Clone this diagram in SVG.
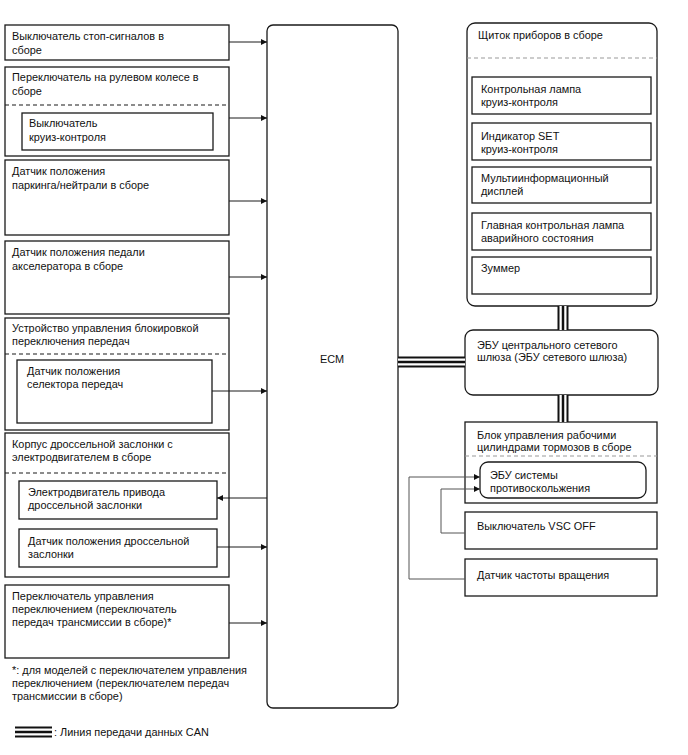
<svg xmlns="http://www.w3.org/2000/svg" width="688" height="755" viewBox="0 0 688 755">
<defs>
<style>
.b{fill:#fff;stroke:#1a1a1a;stroke-width:1.3}
.t{font-family:"Liberation Sans",Arial,sans-serif;font-size:10.9px;fill:#111}
.d{stroke:#1a1a1a;stroke-width:1.2;stroke-dasharray:4 3;fill:none}
.g{stroke:#999;stroke-width:1.2;stroke-dasharray:4 3;fill:none}
.c{stroke:#1a1a1a;stroke-width:1;fill:none}
.cg{stroke:#555;stroke-width:1;fill:none}
</style>
<marker id="ah" viewBox="0 0 10 10" refX="10" refY="5" markerWidth="9" markerHeight="6" markerUnits="userSpaceOnUse" orient="auto"><path d="M0,0L10,5L0,10z" fill="#111"/></marker>
</defs>
<rect width="688" height="755" fill="#fff"/>

<g id="ecm"><rect class="b" x="267" y="25" width="131" height="683" rx="6"/><text class="t" x="332" y="363" text-anchor="middle">ECM</text></g>

<g id="n1"><rect class="b" x="5" y="25" width="224" height="35"/><text class="t" x="12" y="40">Выключатель стоп-сигналов в</text><text class="t" x="12" y="53.5">сборе</text></g>

<g id="n2"><rect class="b" x="5" y="67" width="224" height="89"/><text class="t" x="12" y="81">Переключатель на рулевом колесе в</text><text class="t" x="12" y="94.5">сборе</text><line class="d" x1="5" y1="105" x2="229" y2="105"/>
<g id="n2a"><rect class="b" x="22" y="113" width="191" height="37"/><text class="t" x="29" y="127">Выключатель</text><text class="t" x="29" y="140.5">круиз-контроля</text></g></g>

<g id="n3"><rect class="b" x="5" y="160" width="224" height="75"/><text class="t" x="12" y="175">Датчик положения</text><text class="t" x="12" y="188.5">паркинга/нейтрали в сборе</text></g>

<g id="n4"><rect class="b" x="5" y="241" width="224" height="73"/><text class="t" x="12" y="256">Датчик положения педали</text><text class="t" x="12" y="269.5">акселератора в сборе</text></g>

<g id="n5"><rect class="b" x="5" y="318" width="224" height="112"/><text class="t" x="12" y="332">Устройство управления блокировкой</text><text class="t" x="12" y="345">переключения передач</text><line class="d" x1="5" y1="354" x2="229" y2="354"/>
<g id="n5a"><rect class="b" x="17" y="360" width="195" height="63"/><text class="t" x="27" y="374.5">Датчик положения</text><text class="t" x="27" y="387.5">селектора передач</text></g></g>

<g id="n6"><rect class="b" x="5" y="433" width="224" height="144"/><text class="t" x="12" y="448">Корпус дроссельной заслонки с</text><text class="t" x="12" y="461">электродвигателем в сборе</text><line class="d" x1="5" y1="473" x2="229" y2="473"/>
<g id="n6a"><rect class="b" x="19" y="481" width="198" height="38"/><text class="t" x="28" y="496">Электродвигатель привода</text><text class="t" x="28" y="509">дроссельной заслонки</text></g>
<g id="n6b"><rect class="b" x="19" y="529" width="198" height="38"/><text class="t" x="28" y="544.5">Датчик положения дроссельной</text><text class="t" x="28" y="557.5">заслонки</text></g></g>

<g id="n7"><rect class="b" x="5" y="585" width="224" height="73"/><text class="t" x="12" y="599.5">Переключатель управления</text><text class="t" x="12" y="612.5">переключением (переключатель</text><text class="t" x="12" y="625.5">передач трансмиссии в сборе)*</text></g>

<g id="note"><text class="t" x="12" y="673.5">*: для моделей с переключателем управления</text><text class="t" x="12" y="686.5">переключением (переключателем передач</text><text class="t" x="12" y="699.5">трансмиссии в сборе)</text></g>

<g id="legend"><line x1="15" y1="732" x2="52" y2="732" stroke="#111" stroke-width="11"/><line x1="15" y1="732" x2="52" y2="732" stroke="#fff" stroke-width="7"/><line x1="15" y1="732" x2="52" y2="732" stroke="#111" stroke-width="2.5"/><text class="t" x="54" y="735.5">: Линия передачи данных CAN</text></g>

<g id="cluster"><rect class="b" x="467" y="23" width="190" height="283" rx="8"/><text class="t" x="478" y="38.5">Щиток приборов в сборе</text><line class="g" x1="467" y1="58" x2="657" y2="58"/>
<g id="ca"><rect class="b" x="472" y="77" width="179" height="37"/><text class="t" x="481" y="92.5">Контрольная лампа</text><text class="t" x="481" y="105.5">круиз-контроля</text></g>
<g id="cb"><rect class="b" x="472" y="123" width="179" height="37"/><text class="t" x="481" y="139.5">Индикатор SET</text><text class="t" x="481" y="152.5">круиз-контроля</text></g>
<g id="cc"><rect class="b" x="472" y="167" width="179" height="36"/><text class="t" x="481" y="182">Мультиинформационный</text><text class="t" x="481" y="195">дисплей</text></g>
<g id="cd"><rect class="b" x="472" y="213" width="179" height="37"/><text class="t" x="481" y="228.5">Главная контрольная лампа</text><text class="t" x="481" y="241.5">аварийного состояния</text></g>
<g id="ce"><rect class="b" x="472" y="257" width="179" height="37"/><text class="t" x="481" y="271.5">Зуммер</text></g></g>

<g id="gateway"><rect class="b" x="465" y="330" width="193" height="65" rx="8"/><text class="t" x="477" y="348.5">ЭБУ центрального сетевого</text><text class="t" x="477" y="361">шлюза (ЭБУ сетевого шлюза)</text></g>

<g id="brake"><rect class="b" x="465" y="422" width="192" height="81"/><text class="t" x="477" y="438.5">Блок управления рабочими</text><text class="t" x="477" y="451">цилиндрами тормозов в сборе</text><line class="g" x1="465" y1="456" x2="657" y2="456"/>
<g id="skid"><rect class="b" x="480" y="462" width="166" height="36" rx="8"/><text class="t" x="490" y="478.5">ЭБУ системы</text><text class="t" x="490" y="491.5">противоскольжения</text></g></g>

<g id="vsc"><rect class="b" x="465" y="512" width="192" height="37"/><text class="t" x="477" y="530">Выключатель VSC OFF</text></g>
<g id="speed"><rect class="b" x="465" y="559" width="192" height="37"/><text class="t" x="477" y="578.5">Датчик частоты вращения</text></g>

<g id="connectors">
<line class="c" x1="229" y1="42" x2="267" y2="42" marker-end="url(#ah)"/>
<line class="c" x1="229" y1="118" x2="267" y2="118" marker-end="url(#ah)"/>
<line class="c" x1="229" y1="201" x2="267" y2="201" marker-end="url(#ah)"/>
<line class="c" x1="229" y1="277" x2="267" y2="277" marker-end="url(#ah)"/>
<line class="c" x1="212" y1="391" x2="267" y2="391" marker-end="url(#ah)"/>
<line class="c" x1="267" y1="498" x2="217" y2="498" marker-end="url(#ah)"/>
<line class="c" x1="217" y1="547" x2="267" y2="547" marker-end="url(#ah)"/>
<line class="c" x1="229" y1="623" x2="267" y2="623" marker-end="url(#ah)"/>
<polyline class="cg" points="465,579 409,579 409,477 480,477" marker-end="url(#ah)"/>
<polyline class="cg" points="465,533 441,533 441,489 480,489" marker-end="url(#ah)"/>
<g id="can">
<line x1="398" y1="362" x2="465" y2="362" stroke="#111" stroke-width="11"/><line x1="398" y1="362" x2="465" y2="362" stroke="#fff" stroke-width="7"/><line x1="398" y1="362" x2="465" y2="362" stroke="#111" stroke-width="2.5"/>
<line x1="563" y1="306" x2="563" y2="330" stroke="#111" stroke-width="11"/><line x1="563" y1="306" x2="563" y2="330" stroke="#fff" stroke-width="7"/><line x1="563" y1="306" x2="563" y2="330" stroke="#111" stroke-width="2.5"/>
<line x1="563" y1="395" x2="563" y2="422" stroke="#111" stroke-width="11"/><line x1="563" y1="395" x2="563" y2="422" stroke="#fff" stroke-width="7"/><line x1="563" y1="395" x2="563" y2="422" stroke="#111" stroke-width="2.5"/>
</g>
</g>
</svg>
